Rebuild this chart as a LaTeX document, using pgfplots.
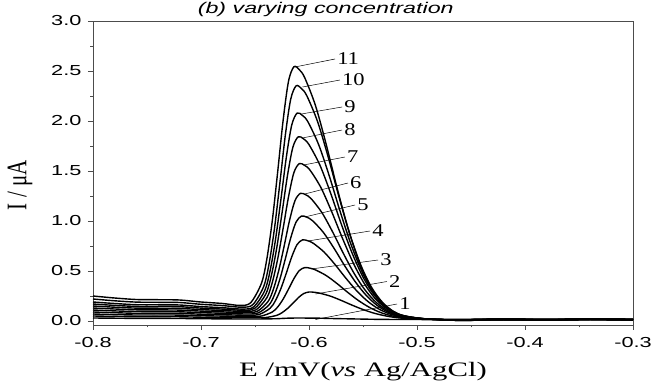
\documentclass[border=0pt]{standalone}
\usepackage{pgfplots}
\pgfplotsset{compat=1.18}
\usepackage{graphicx}
\usepackage{fontspec}
\setmainfont{Liberation Serif}
\newfontfamily\tickfont{Liberation Sans}[FakeStretch=1.5]
\newfontfamily\titlefont{Liberation Sans}[FakeStretch=1.5]
\newfontfamily\labfont{Liberation Serif}[FakeStretch=1.5]
\newfontfamily\plainserif{Liberation Serif}
\newfontfamily\numfont{Liberation Serif}[FakeStretch=1.25]
\begin{document}
\begin{tikzpicture}
\begin{axis}[
  at={(0,0)}, anchor=south west,
  scale only axis, width=540pt, height=304pt,
  xmin=-0.8, xmax=-0.3, ymin=-0.04, ymax=3.0,
  xtick={-0.8,-0.7,-0.6,-0.5,-0.4,-0.3},
  ytick={0,0.5,1,1.5,2,2.5,3},
  minor x tick num=1, minor y tick num=1,
  tick pos=left, tick align=outside,
  major tick length=5pt, minor tick length=2.5pt,
  tick style={black!70, line width=0.7pt},
  axis line style={black!70, line width=0.8pt},
  /pgf/number format/.cd, fixed, fixed zerofill, precision=1, assume math mode=true,
  /pgfplots/.cd,
  tick label style={font=\tickfont\fontsize{14.5}{14.5}\selectfont, text=black},
  xticklabel style={yshift=-4pt},
  yticklabel style={xshift=-3pt},
  xlabel={\labfont\fontsize{20.5}{22}\selectfont E /mV(\textit{vs} Ag/AgCl)},
  xlabel style={at={(axis description cs:0.5,0)}, anchor=base, yshift=-51pt},
  ylabel={\scalebox{1}[1.35]{\plainserif\fontsize{21}{22}\selectfont I / μA}},
  ylabel style={at={(axis description cs:-0.135,0.46)}, anchor=center, rotate=0},
  clip=false,
  no markers,
  every axis plot post/.append style={black, solid, mark=none, line width=1.4pt, smooth, tension=0.5},
]
% curve 1
\addplot coordinates {(-0.80,0.030)(-0.78,0.028)(-0.76,0.026)(-0.74,0.026)(-0.72,0.025)(-0.70,0.023)(-0.68,0.021)
(-0.66,0.020)(-0.65,0.020)(-0.64,0.021)(-0.63,0.023)(-0.62,0.028)(-0.61,0.030)(-0.60,0.029)(-0.59,0.028)(-0.58,0.025)(-0.57,0.023)(-0.56,0.021)(-0.55,0.019)(-0.54,0.017)(-0.53,0.016)(-0.52,0.015)(-0.50,0.015)
(-0.46,0.010)(-0.42,0.016)(-0.38,0.012)(-0.34,0.017)(-0.30,0.013)};
% curve 2
\addplot coordinates {(-0.80,0.050)(-0.78,0.046)(-0.76,0.043)(-0.74,0.043)(-0.72,0.042)(-0.70,0.038)(-0.68,0.035)
(-0.65,0.033)(-0.64,0.035)(-0.63,0.056)(-0.625,0.083)(-0.62,0.124)(-0.615,0.176)(-0.61,0.232)(-0.605,0.274)(-0.60,0.290)(-0.595,0.287)(-0.59,0.278)(-0.58,0.248)(-0.57,0.205)(-0.56,0.158)(-0.55,0.115)(-0.54,0.079)(-0.53,0.053)(-0.52,0.035)(-0.51,0.025)(-0.50,0.020)(-0.48,0.016)
(-0.46,0.014)(-0.42,0.020)(-0.38,0.016)(-0.34,0.021)(-0.30,0.017)};
% curve 3
\addplot coordinates {(-0.80,0.070)(-0.78,0.064)(-0.76,0.060)(-0.74,0.060)(-0.72,0.059)(-0.70,0.053)(-0.68,0.049)
(-0.654,0.045)(-0.644,0.050)(-0.634,0.090)(-0.629,0.140)(-0.624,0.218)(-0.619,0.318)(-0.614,0.423)(-0.609,0.504)(-0.604,0.534)(-0.599,0.528)(-0.594,0.511)(-0.584,0.454)(-0.574,0.374)(-0.564,0.285)(-0.554,0.203)(-0.544,0.136)(-0.534,0.086)(-0.524,0.053)(-0.514,0.033)(-0.504,0.024)(-0.484,0.016)
(-0.46,0.006)(-0.42,0.012)(-0.38,0.008)(-0.34,0.013)(-0.30,0.009)};
% curve 4
\addplot coordinates {(-0.80,0.090)(-0.78,0.083)(-0.76,0.077)(-0.74,0.077)(-0.72,0.076)(-0.70,0.068)(-0.68,0.063)
(-0.656,0.057)(-0.646,0.066)(-0.636,0.128)(-0.631,0.205)(-0.626,0.325)(-0.621,0.479)(-0.616,0.641)(-0.611,0.765)(-0.606,0.811)(-0.601,0.802)(-0.596,0.777)(-0.586,0.689)(-0.576,0.566)(-0.566,0.430)(-0.556,0.304)(-0.546,0.200)(-0.536,0.124)(-0.526,0.074)(-0.516,0.043)(-0.506,0.028)(-0.486,0.017)
(-0.46,0.010)(-0.42,0.016)(-0.38,0.012)(-0.34,0.017)(-0.30,0.013)};
% curve 5
\addplot coordinates {(-0.80,0.110)(-0.78,0.101)(-0.76,0.095)(-0.74,0.094)(-0.72,0.092)(-0.70,0.084)(-0.68,0.077)
(-0.657,0.070)(-0.647,0.081)(-0.637,0.161)(-0.632,0.261)(-0.627,0.417)(-0.622,0.618)(-0.617,0.828)(-0.612,0.989)(-0.607,1.049)(-0.602,1.038)(-0.597,1.005)(-0.587,0.890)(-0.577,0.730)(-0.567,0.553)(-0.557,0.390)(-0.547,0.256)(-0.537,0.157)(-0.527,0.091)(-0.517,0.052)(-0.507,0.032)(-0.487,0.018)
(-0.46,0.014)(-0.42,0.020)(-0.38,0.016)(-0.34,0.021)(-0.30,0.017)};
% curve 6
\addplot coordinates {(-0.80,0.130)(-0.78,0.120)(-0.76,0.112)(-0.74,0.111)(-0.72,0.109)(-0.70,0.099)(-0.68,0.091)
(-0.658,0.082)(-0.648,0.096)(-0.638,0.194)(-0.633,0.316)(-0.628,0.506)(-0.623,0.750)(-0.618,1.007)(-0.613,1.203)(-0.608,1.276)(-0.603,1.262)(-0.598,1.223)(-0.588,1.083)(-0.578,0.888)(-0.568,0.672)(-0.558,0.472)(-0.548,0.308)(-0.538,0.188)(-0.528,0.108)(-0.518,0.060)(-0.508,0.036)(-0.488,0.018)
(-0.46,0.006)(-0.42,0.012)(-0.38,0.008)(-0.34,0.013)(-0.30,0.009)};
% curve 7
\addplot coordinates {(-0.80,0.150)(-0.78,0.138)(-0.76,0.129)(-0.74,0.128)(-0.72,0.126)(-0.70,0.114)(-0.68,0.105)
(-0.659,0.095)(-0.649,0.112)(-0.639,0.233)(-0.634,0.385)(-0.629,0.620)(-0.624,0.923)(-0.619,1.240)(-0.614,1.483)(-0.609,1.574)(-0.604,1.556)(-0.599,1.508)(-0.589,1.335)(-0.579,1.093)(-0.569,0.827)(-0.559,0.580)(-0.549,0.378)(-0.539,0.228)(-0.529,0.130)(-0.519,0.070)(-0.509,0.041)(-0.489,0.019)
(-0.46,0.010)(-0.42,0.016)(-0.38,0.012)(-0.34,0.017)(-0.30,0.013)};
% curve 8
\addplot coordinates {(-0.80,0.170)(-0.78,0.156)(-0.76,0.146)(-0.74,0.145)(-0.72,0.143)(-0.70,0.129)(-0.68,0.119)
(-0.66,0.107)(-0.65,0.128)(-0.64,0.269)(-0.635,0.447)(-0.63,0.723)(-0.625,1.078)(-0.62,1.450)(-0.615,1.735)(-0.61,1.842)(-0.605,1.821)(-0.60,1.764)(-0.59,1.561)(-0.58,1.279)(-0.57,0.966)(-0.56,0.677)(-0.55,0.440)(-0.54,0.265)(-0.53,0.150)(-0.52,0.080)(-0.51,0.045)(-0.49,0.020)
(-0.46,0.014)(-0.42,0.020)(-0.38,0.016)(-0.34,0.021)(-0.30,0.017)};
% curve 9
\addplot coordinates {(-0.80,0.190)(-0.78,0.175)(-0.76,0.163)(-0.74,0.162)(-0.72,0.160)(-0.70,0.144)(-0.68,0.133)
(-0.661,0.119)(-0.651,0.143)(-0.641,0.303)(-0.636,0.504)(-0.631,0.815)(-0.626,1.216)(-0.621,1.637)(-0.616,1.959)(-0.611,2.079)(-0.606,2.055)(-0.601,1.992)(-0.591,1.762)(-0.581,1.443)(-0.571,1.090)(-0.561,0.763)(-0.551,0.495)(-0.541,0.298)(-0.531,0.167)(-0.521,0.088)(-0.511,0.049)(-0.491,0.021)
(-0.46,0.006)(-0.42,0.012)(-0.38,0.008)(-0.34,0.013)(-0.30,0.009)};
% curve 10
\addplot coordinates {(-0.80,0.220)(-0.78,0.202)(-0.76,0.189)(-0.74,0.187)(-0.72,0.185)(-0.70,0.167)(-0.68,0.154)
(-0.662,0.138)(-0.652,0.164)(-0.642,0.344)(-0.637,0.571)(-0.632,0.923)(-0.627,1.376)(-0.622,1.851)(-0.617,2.215)(-0.612,2.351)(-0.607,2.325)(-0.602,2.252)(-0.592,1.992)(-0.582,1.631)(-0.572,1.231)(-0.562,0.862)(-0.552,0.558)(-0.542,0.335)(-0.532,0.187)(-0.522,0.098)(-0.512,0.053)(-0.492,0.021)
(-0.46,0.010)(-0.42,0.016)(-0.38,0.012)(-0.34,0.017)(-0.30,0.013)};
% curve 11
\addplot coordinates {(-0.80,0.250)(-0.78,0.230)(-0.76,0.215)(-0.74,0.213)(-0.72,0.210)(-0.70,0.190)(-0.68,0.175)
(-0.664,0.156)(-0.654,0.183)(-0.644,0.378)(-0.639,0.622)(-0.634,1.002)(-0.629,1.491)(-0.624,2.003)(-0.619,2.396)(-0.614,2.542)(-0.609,2.513)(-0.604,2.434)(-0.594,2.154)(-0.584,1.763)(-0.574,1.331)(-0.564,0.932)(-0.554,0.603)(-0.544,0.361)(-0.534,0.201)(-0.524,0.105)(-0.514,0.056)(-0.494,0.022)
(-0.46,0.014)(-0.42,0.020)(-0.38,0.016)(-0.34,0.021)(-0.30,0.017)};
% leader lines and labels
\begin{scope}[line width=0.5pt, black, every node/.style={anchor=west, inner sep=2pt, font=\numfont\fontsize{18}{18}\selectfont}]
\draw (axis cs:-0.613,2.54) -- (axis cs:-0.5759,2.62) node {11};
\draw (axis cs:-0.606,2.34) -- (axis cs:-0.5713,2.41) node {10};
\draw (axis cs:-0.607,2.07) -- (axis cs:-0.5694,2.14) node {9};
\draw (axis cs:-0.606,1.83) -- (axis cs:-0.5694,1.91) node {8};
\draw (axis cs:-0.605,1.56) -- (axis cs:-0.5667,1.64) node {7};
\draw (axis cs:-0.604,1.27) -- (axis cs:-0.5639,1.38) node {6};
\draw (axis cs:-0.604,1.04) -- (axis cs:-0.5574,1.16) node {5};
\draw (axis cs:-0.601,0.80) -- (axis cs:-0.5435,0.90) node {4};
\draw (axis cs:-0.598,0.52) -- (axis cs:-0.5361,0.61) node {3};
\draw (axis cs:-0.594,0.27) -- (axis cs:-0.5278,0.395) node {2};
\draw (axis cs:-0.594,0.015) -- (axis cs:-0.5185,0.17) node {1};
\end{scope}
\node[anchor=base, font=\titlefont\itshape\fontsize{15.5}{15.5}\selectfont] at (rel axis cs:0.431,1) [yshift=7.5pt] {(b) varying concentration};
\end{axis}
\pgfresetboundingbox
\useasboundingbox (-93pt,-57pt) rectangle (567pt,325pt);
\end{tikzpicture}
\end{document}
